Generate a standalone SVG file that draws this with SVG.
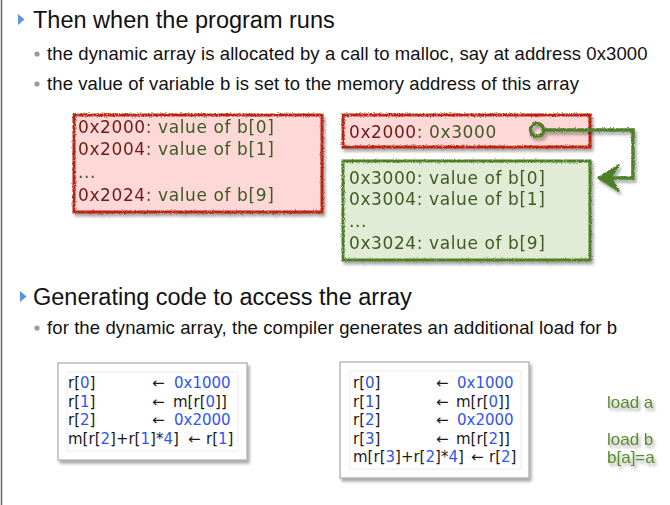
<svg xmlns="http://www.w3.org/2000/svg" width="670" height="505" viewBox="0 0 670 505">
  <style>
    .title { font-family: "Liberation Sans", Arial, sans-serif; font-size: 23.5px; fill: #111; }
    .bullet { font-family: "Liberation Sans", Arial, sans-serif; font-size: 18.5px; letter-spacing: 0.1px; fill: #111; }
    .mem { font-family: "DejaVu Sans", sans-serif; font-size: 17px; letter-spacing: 0.6px; fill: #3d5a22; }
    .addr { fill: #6e1a14; }
    .code { font-family: "DejaVu Sans", sans-serif; font-size: 15px; fill: #1a1a1a; }
    .num { fill: #2f55f2; }
    .note { font-family: "Liberation Sans", Arial, sans-serif; font-size: 17px; fill: #5a8a2c; }
    .redbox { fill: #fdd8d7; }
    .redline { fill: none; stroke: #b8260e; stroke-width: 3; }
    .grnbox { fill: #e1ebd5; }
    .grnline { fill: none; stroke: #4e7f26; stroke-width: 3; }
    .frame { fill: #fff; stroke: #a8a8a8; stroke-width: 1.2; }
    .inner { fill: #fff; stroke: #ececec; stroke-width: 1; }
    .dot { fill: #9a9a9a; }
    .tri { fill: #5b93e6; }
  </style>
  <defs>
    <filter id="rough" x="-5%" y="-10%" width="110%" height="120%">
      <feTurbulence type="fractalNoise" baseFrequency="0.9" numOctaves="2" seed="3" result="n"/>
      <feDisplacementMap in="SourceGraphic" in2="n" scale="3" xChannelSelector="R" yChannelSelector="G"/>
    </filter>
    <filter id="shadow" x="-10%" y="-10%" width="125%" height="130%">
      <feGaussianBlur in="SourceAlpha" stdDeviation="1.8"/>
      <feOffset dx="1.5" dy="2.5" result="b"/>
      <feComponentTransfer><feFuncA type="linear" slope="0.35"/></feComponentTransfer>
      <feMerge><feMergeNode/><feMergeNode in="SourceGraphic"/></feMerge>
    </filter>
  </defs>

  <rect width="670" height="505" fill="#fff"/>
  <line x1="1.5" y1="0" x2="1.5" y2="505" stroke="#666" stroke-width="1.5"/>

  <!-- headings and bullet text -->
  <g id="heading-runtime">
    <polygon class="tri" points="18,14 18,25 24.5,19.5"/>
    <text class="title" x="33" y="28">Then when the program runs</text>
    <circle class="dot" cx="37" cy="54" r="2.6"/>
    <text class="bullet" x="47" y="60">the dynamic array is allocated by a call to malloc, say at address 0x3000</text>
    <circle class="dot" cx="37" cy="84" r="2.6"/>
    <text class="bullet" x="47" y="90">the value of variable b is set to the memory address of this array</text>
  </g>

  <!-- static array in memory -->
  <g id="static-array" filter="url(#shadow)">
    <rect class="redbox" x="74" y="115" width="248" height="97"/>
    <rect class="redline" x="74" y="115" width="248" height="97" filter="url(#rough)"/>
    <text class="mem" x="78" y="133"><tspan class="addr">0x2000</tspan>: value of b[0]</text>
    <text class="mem" x="78" y="155"><tspan class="addr">0x2004</tspan>: value of b[1]</text>
    <text class="mem" x="78" y="178">...</text>
    <text class="mem" x="78" y="201"><tspan class="addr">0x2024</tspan>: value of b[9]</text>
  </g>

  <!-- pointer variable b -->
  <g id="pointer-b" filter="url(#shadow)">
    <rect class="redbox" x="343" y="115" width="247" height="32"/>
    <rect class="redline" x="343" y="115" width="247" height="32" filter="url(#rough)"/>
    <text class="mem" x="349" y="138"><tspan class="addr">0x2000</tspan>: 0x3000</text>
  </g>

  <!-- dynamic array in memory -->
  <g id="dynamic-array" filter="url(#shadow)">
    <rect class="grnbox" x="343" y="161" width="247" height="99"/>
    <rect class="grnline" x="343" y="161" width="247" height="99" filter="url(#rough)"/>
    <text class="mem" x="349" y="184">0x3000: value of b[0]</text>
    <text class="mem" x="349" y="205">0x3004: value of b[1]</text>
    <text class="mem" x="349" y="227">...</text>
    <text class="mem" x="349" y="249">0x3024: value of b[9]</text>
  </g>

  <!-- pointer connector -->
  <g id="connectors" filter="url(#shadow)">
    <g filter="url(#rough)">
      <circle cx="537" cy="130" r="6.5" fill="none" stroke="#4e7f26" stroke-width="3.5"/>
      <polyline points="543.5,130 633,130 633,178 610,178" fill="none" stroke="#4e7f26" stroke-width="3.5"/>
      <polygon points="598,178 619,165 611,178 619,191" fill="#4e7f26" stroke="#4e7f26" stroke-width="1.5" stroke-linejoin="round"/>
    </g>
  </g>

  <g id="heading-codegen">
    <polygon class="tri" points="20,291 20,302 26.5,296.5"/>
    <text class="title" x="33" y="305">Generating code to access the array</text>
    <circle class="dot" cx="37" cy="328" r="2.6"/>
    <text class="bullet" x="47" y="334">for the dynamic array, the compiler generates an additional load for b</text>
  </g>

  <!-- code for the static array -->
  <g id="code-static">
    <rect class="frame" x="58" y="363" width="189" height="97" filter="url(#shadow)"/>
    <rect class="inner" x="67" y="372" width="171" height="79"/>
    <text class="code" y="388"><tspan x="68">r[<tspan class="num">0</tspan>]</tspan><tspan x="152">←</tspan><tspan x="174" class="num">0x1000</tspan></text>
    <text class="code" y="406.5"><tspan x="68">r[<tspan class="num">1</tspan>]</tspan><tspan x="152">←</tspan><tspan x="173">m[r[<tspan class="num">0</tspan>]]</tspan></text>
    <text class="code" y="425"><tspan x="68">r[<tspan class="num">2</tspan>]</tspan><tspan x="152">←</tspan><tspan x="174" class="num">0x2000</tspan></text>
    <text class="code" y="443.5"><tspan x="68">m[r[<tspan class="num">2</tspan>]+r[<tspan class="num">1</tspan>]*<tspan class="num">4</tspan>]</tspan><tspan x="188">←</tspan><tspan x="206">r[<tspan class="num">1</tspan>]</tspan></text>
  </g>

  <!-- code for the dynamic array -->
  <g id="code-dynamic">
    <rect class="frame" x="340" y="362" width="189" height="116" filter="url(#shadow)"/>
    <rect class="inner" x="350" y="371" width="171" height="98"/>
    <text class="code" y="388"><tspan x="353">r[<tspan class="num">0</tspan>]</tspan><tspan x="436">←</tspan><tspan x="457" class="num">0x1000</tspan></text>
    <text class="code" y="406.5"><tspan x="353">r[<tspan class="num">1</tspan>]</tspan><tspan x="436">←</tspan><tspan x="456">m[r[<tspan class="num">0</tspan>]]</tspan></text>
    <text class="code" y="425"><tspan x="353">r[<tspan class="num">2</tspan>]</tspan><tspan x="436">←</tspan><tspan x="457" class="num">0x2000</tspan></text>
    <text class="code" y="443.5"><tspan x="353">r[<tspan class="num">3</tspan>]</tspan><tspan x="436">←</tspan><tspan x="456">m[r[<tspan class="num">2</tspan>]]</tspan></text>
    <text class="code" y="462"><tspan x="353">m[r[<tspan class="num">3</tspan>]+r[<tspan class="num">2</tspan>]*<tspan class="num">4</tspan>]</tspan><tspan x="471">←</tspan><tspan x="489">r[<tspan class="num">2</tspan>]</tspan></text>
  </g>

  <g id="annotations" filter="url(#shadow)">
    <text class="note" x="607" y="408">load a</text>
    <text class="note" x="607" y="445">load b</text>
    <text class="note" x="607" y="463">b[a]=a</text>
  </g>
</svg>
